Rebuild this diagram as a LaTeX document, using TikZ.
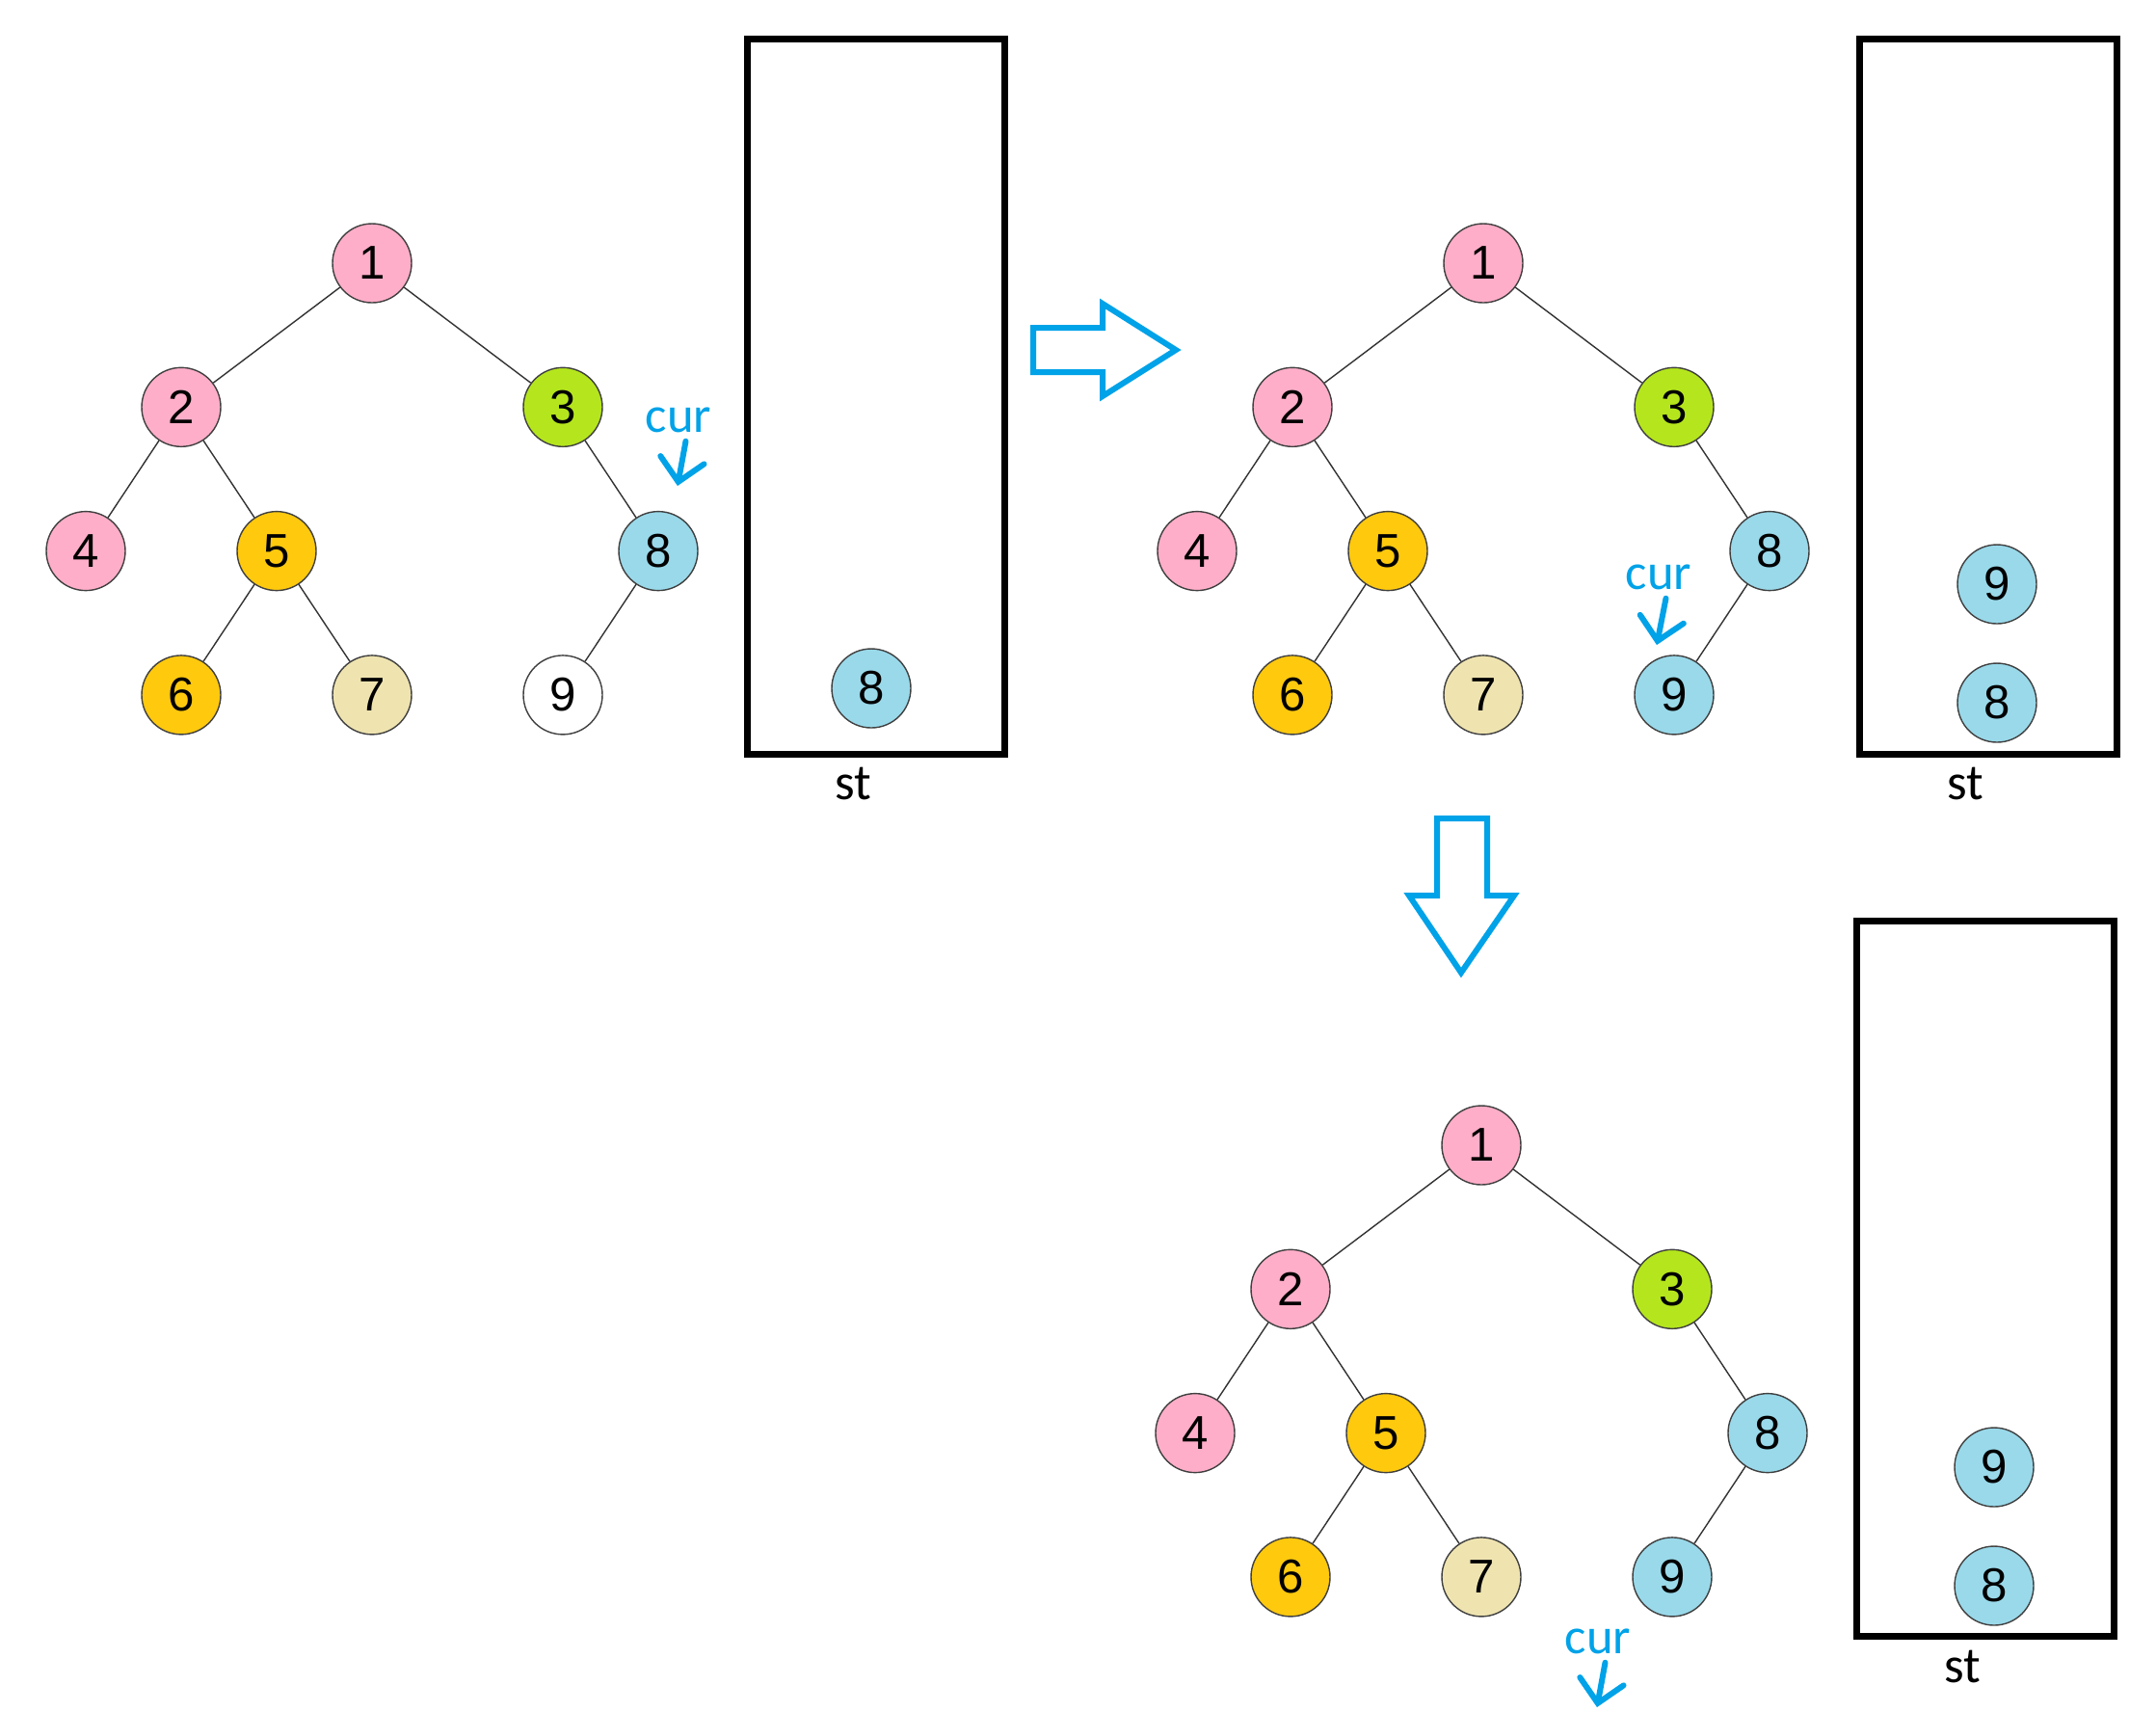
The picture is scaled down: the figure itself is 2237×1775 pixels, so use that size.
\documentclass[tikz,border=0pt]{standalone}
\usepackage{fontspec}
\setmainfont{Carlito}
\newfontfamily\digitfont{Liberation Sans}
\usepackage{xcolor}
\usepackage{tikz}
\usetikzlibrary{positioning, arrows.meta}

\definecolor{nodepink}{RGB}{255,174,201}
\definecolor{nodelime}{RGB}{181,230,29}
\definecolor{nodegold}{RGB}{255,201,14}
\definecolor{nodecream}{RGB}{239,228,176}
\definecolor{nodeblue}{RGB}{153,217,234}
\definecolor{curblue}{RGB}{0,162,232}

\tikzset{
  tnode/.style={circle, draw=black!75, line width=0.4pt, minimum size=8.2mm,
    inner sep=0pt, font=\digitfont\fontsize{14}{16}\selectfont},
  tedge/.style={draw=black!80, line width=0.4pt},
  stackbox/.style={draw=black, line width=0.7mm, minimum width=26.7mm, minimum height=74.2mm},
  stlbl/.style={inner sep=0pt, font=\fontsize{15}{17}\selectfont},
  curlbl/.style={inner sep=0pt, text=curblue, font=\fontsize{15}{17}\selectfont},
  curarrow/.style={draw=curblue, line width=0.6mm, line cap=round,
    -{Straight Barb[length=2.3mm, width=4.6mm, line cap=round]}},
  blockarrow/.style={draw=curblue, line width=0.6mm}
}

% one tree: name, x, y, fill of node 9
\newcommand{\bintree}[4]{%
  \node[tnode, fill=nodepink] (#1-1) at (#2,#3) {1};
  \node[tnode, fill=nodepink, below left=14.93mm and 19.8mm of #1-1] (#1-2) {2};
  \node[tnode, fill=nodelime, below right=14.93mm and 19.8mm of #1-1] (#1-3) {3};
  \node[tnode, fill=nodepink, below left=14.93mm and 9.9mm of #1-2] (#1-4) {4};
  \node[tnode, fill=nodegold, below right=14.93mm and 9.9mm of #1-2] (#1-5) {5};
  \node[tnode, fill=nodeblue, below right=14.93mm and 9.9mm of #1-3] (#1-8) {8};
  \node[tnode, fill=nodegold, below left=14.93mm and 9.9mm of #1-5] (#1-6) {6};
  \node[tnode, fill=nodecream, below right=14.93mm and 9.9mm of #1-5] (#1-7) {7};
  \node[tnode, fill=#4, below left=14.93mm and 9.9mm of #1-8] (#1-9) {9};
  \draw[tedge] (#1-1) -- (#1-2) (#1-1) -- (#1-3) (#1-2) -- (#1-4) (#1-2) -- (#1-5)
    (#1-5) -- (#1-6) (#1-5) -- (#1-7) (#1-3) -- (#1-8) (#1-8) -- (#1-9);
}

\begin{document}
\begin{tikzpicture}[x=0.1mm, y=-0.1mm, on grid]
  \useasboundingbox (0,0) rectangle (2237,1775);

  % the three trees
  \bintree{ta}{386}{273}{white}
  \bintree{tb}{1539}{273}{nodeblue}
  \bintree{tc}{1537}{1188}{nodeblue}

  % stacks
  \node[stackbox] (sa) at (909,411) {};
  \node[stackbox] (sb) at (2063,411) {};
  \node[stackbox] (sc) at (2060,1326) {};
  \node[stlbl] (sa-lbl) at ([xshift=-2.4mm, yshift=-2.8mm]sa.south) {st};
  \node[stlbl] (sb-lbl) at ([xshift=-2.4mm, yshift=-2.8mm]sb.south) {st};
  \node[stlbl] (sc-lbl) at ([xshift=-2.4mm, yshift=-2.8mm]sc.south) {st};
  \node[tnode, fill=nodeblue] (sa-8) at (904,714) {8};
  \node[tnode, fill=nodeblue] (sb-9) at (2072,606) {9};
  \node[tnode, fill=nodeblue] (sb-8) at (2072,729) {8};
  \node[tnode, fill=nodeblue] (sc-9) at (2069,1522) {9};
  \node[tnode, fill=nodeblue] (sc-8) at (2069,1645) {8};

  % step arrows
  \draw[blockarrow] (1072,340) -- (1144,340) -- (1144,315) -- (1220,363)
    -- (1144,411) -- (1144,386) -- (1072,386) -- cycle;
  \draw[blockarrow] (1491,849) -- (1543,849) -- (1543,929) -- (1571,929)
    -- (1516,1009) -- (1462,929) -- (1491,929) -- cycle;

  % cur pointers
  \node[curlbl] (cur1) at (704,436) {cur};
  \coordinate (cur1tip) at (703,504);
  \draw[curarrow] ([xshift=0.75mm, yshift=-0.8mm]cur1.south) -- (cur1tip);
  \node[curlbl] (cur2) at (1721,599) {cur};
  \coordinate (cur2tip) at (1719,669);
  \draw[curarrow] ([xshift=0.75mm, yshift=-0.8mm]cur2.south) -- (cur2tip);
  \node[curlbl] (cur3) at (1658,1703) {cur};
  \coordinate (cur3tip) at (1657,1771);
  \draw[curarrow] ([xshift=0.75mm, yshift=-0.8mm]cur3.south) -- (cur3tip);
\end{tikzpicture}
\end{document}
